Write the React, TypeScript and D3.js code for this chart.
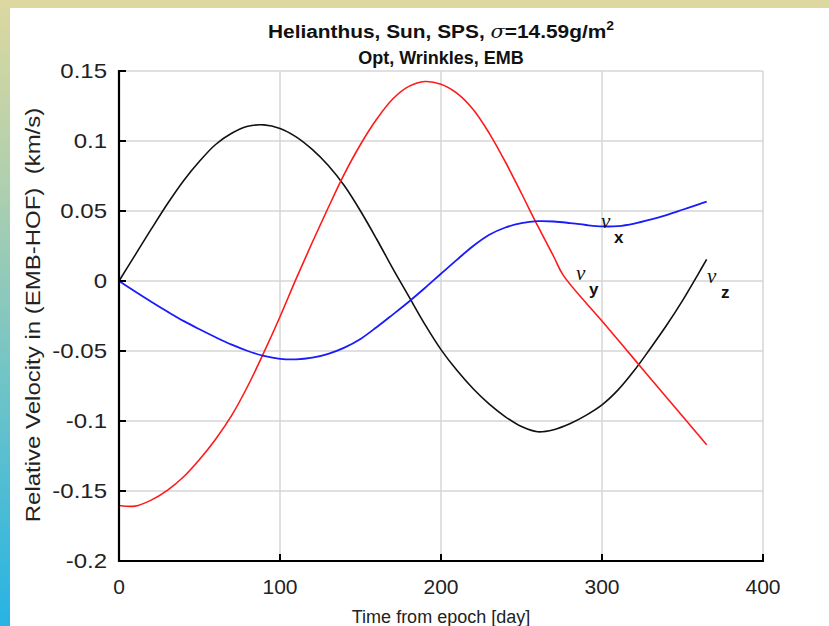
import React from "react";
import * as d3 from "d3";

const days = [0, 10, 20, 30, 40, 50, 60, 70, 80, 90, 100, 110, 120, 130, 140, 150, 160, 170, 180, 190, 200, 210, 220, 230, 240, 250, 260, 270, 280, 290, 300, 310, 320, 330, 340, 350, 360, 365];

const vxValues = [0, -0.0075, -0.0148, -0.0218, -0.0285, -0.0345, -0.0402, -0.0455, -0.0500, -0.0535, -0.0556, -0.0560, -0.0548, -0.0520, -0.0476, -0.0414, -0.0330, -0.0240, -0.0148, -0.0050, 0.0052, 0.0153, 0.0250, 0.0330, 0.0382, 0.0413, 0.0427, 0.0425, 0.0414, 0.0400, 0.0390, 0.0392, 0.0410, 0.0438, 0.0471, 0.0509, 0.0548, 0.0567];

const vzValues = [0, 0.0185, 0.037, 0.055, 0.0715, 0.0855, 0.0975, 0.1055, 0.1105, 0.1115, 0.109, 0.103, 0.094, 0.0825, 0.068, 0.050, 0.030, 0.009, -0.011, -0.031, -0.049, -0.064, -0.077, -0.088, -0.097, -0.104, -0.1077, -0.1062, -0.1020, -0.0960, -0.0885, -0.0778, -0.0640, -0.0482, -0.0318, -0.0140, 0.0055, 0.0155];

const vyDays = [0, 10, 20, 30, 40, 50, 60, 70, 80, 90, 100, 110, 120, 130, 140, 150, 160, 170, 180, 190, 200, 210, 220, 230, 240, 250, 260, 270, 276, 300, 320, 340, 365];
const vyValues = [-0.1603, -0.1608, -0.1565, -0.1495, -0.140, -0.1275, -0.113, -0.096, -0.075, -0.051, -0.0255, 0.0015, 0.0275, 0.0525, 0.0765, 0.0975, 0.1155, 0.130, 0.139, 0.1425, 0.1405, 0.134, 0.1225, 0.1055, 0.085, 0.0625, 0.0395, 0.0175, 0.004, -0.0286, -0.0558, -0.0830, -0.117];

const xTicks = [0, 100, 200, 300, 400];
const yTicks = [-0.2, -0.15, -0.1, -0.05, 0, 0.05, 0.1, 0.15];
const yTickLabels = ["-0.2", "-0.15", "-0.1", "-0.05", "0", "0.05", "0.1", "0.15"];

const W = 829;
const H = 626;
const left = 119;
const right = 763;
const top = 71;
const bottom = 561;

export default function App() {
  const x = d3.scaleLinear().domain([0, 400]).range([left, right]);
  const y = d3.scaleLinear().domain([-0.2, 0.15]).range([bottom, top]);
  const line = d3
    .line<[number, number]>()
    .x((d) => x(d[0]))
    .y((d) => y(d[1]))
    .curve(d3.curveCatmullRom.alpha(0.5));

  const vx = line(days.map((d, i) => [d, vxValues[i]] as [number, number])) || "";
  const vz = line(days.map((d, i) => [d, vzValues[i]] as [number, number])) || "";
  const vy = line(vyDays.map((d, i) => [d, vyValues[i]] as [number, number])) || "";

  const grid = "#d6d6d6";
  const font = "'Liberation Sans', Arial, sans-serif";

  return (
    <div style={{ position: "absolute", left: 0, top: 0 }}>
      <svg width={W} height={H} style={{ display: "block" }}>
        <defs>
          <linearGradient id="lg" x1="0" y1="0" x2="0" y2="1">
            <stop offset="0" stopColor="#dcd8a0" />
            <stop offset="0.3" stopColor="#aecfae" />
            <stop offset="0.6" stopColor="#72c4c6" />
            <stop offset="1" stopColor="#27b3e4" />
          </linearGradient>
        </defs>
        <rect x={0} y={0} width={W} height={H} fill="#ffffff" />
        <rect x={0} y={0} width={W} height={8} fill="#dcd8a0" />
        <rect x={0} y={0} width={10} height={H} fill="url(#lg)" />

        {xTicks.map((t) => (
          <line key={"gx" + t} x1={x(t)} x2={x(t)} y1={top} y2={bottom} stroke={grid} strokeWidth={1.5} />
        ))}
        {yTicks.map((t) => (
          <line key={"gy" + t} x1={left} x2={right} y1={y(t)} y2={y(t)} stroke={grid} strokeWidth={1.5} />
        ))}

        <path d={vz} fill="none" stroke="#111" strokeWidth={1.6} />
        <path d={vy} fill="none" stroke="#ff1a1a" strokeWidth={1.6} />
        <path d={vx} fill="none" stroke="#1a1aff" strokeWidth={1.8} />

        <line x1={left} x2={left} y1={top - 1} y2={bottom + 1} stroke="#000" strokeWidth={2.2} />
        <line x1={left - 1} x2={right + 1} y1={bottom} y2={bottom} stroke="#000" strokeWidth={2.2} />
        {yTicks.map((t) => (
          <line key={"ty" + t} x1={left} x2={left + 7} y1={y(t)} y2={y(t)} stroke="#000" strokeWidth={2} />
        ))}
        {xTicks.map((t) => (
          <line key={"tx" + t} x1={x(t)} x2={x(t)} y1={bottom} y2={bottom - 7} stroke="#000" strokeWidth={2} />
        ))}

        {yTicks.map((t, i) => (
          <text key={"ly" + t} transform={`translate(107,${y(t)}) scale(1.2,1)`} dy="0.36em" textAnchor="end" fontFamily={font} fontSize={20} fill="#222">
            {yTickLabels[i]}
          </text>
        ))}
        {xTicks.map((t) => (
          <text key={"lx" + t} x={x(t)} y={594} textAnchor="middle" fontFamily={font} fontSize={21} fill="#222">
            {t}
          </text>
        ))}

        <text x={441} y={623} textAnchor="middle" fontFamily={font} fontSize={18} fill="#222">
          Time from epoch [day]
        </text>
        <text transform={`translate(40,${315}) rotate(-90) scale(1.2,1)`} textAnchor="middle" fontFamily={font} fontSize={20} fill="#222" style={{ whiteSpace: "pre" }}>
          {"Relative Velocity in (EMB-HOF)  (km/s)"}
        </text>

        <text x={268} y={38} textLength={346} lengthAdjust="spacingAndGlyphs" fontFamily={font} fontSize={18} fontWeight="bold" fill="#111">
          Helianthus, Sun, SPS, <tspan fontFamily="'DejaVu Serif', serif" fontStyle="italic" fontWeight="normal">σ</tspan>=14.59g/m
          <tspan dy={-8} fontSize={12}>2</tspan>
        </text>
        <text x={441} y={64} textAnchor="middle" fontFamily={font} fontSize={18} fontWeight="bold" fill="#111">
          Opt, Wrinkles, EMB
        </text>

        <text x={601} y={228} fontFamily="'Liberation Serif', serif" fontStyle="italic" fontSize={21} fill="#111">v</text>
        <text x={614} y={243} fontFamily={font} fontWeight="bold" fontSize={17} fill="#111">x</text>
        <text x={576} y={280} fontFamily="'Liberation Serif', serif" fontStyle="italic" fontSize={21} fill="#111">v</text>
        <text x={589} y={295} fontFamily={font} fontWeight="bold" fontSize={17} fill="#111">y</text>
        <text x={707} y={283} fontFamily="'Liberation Serif', serif" fontStyle="italic" fontSize={21} fill="#111">v</text>
        <text x={721} y={298} fontFamily={font} fontWeight="bold" fontSize={17} fill="#111">z</text>
      </svg>
    </div>
  );
}
